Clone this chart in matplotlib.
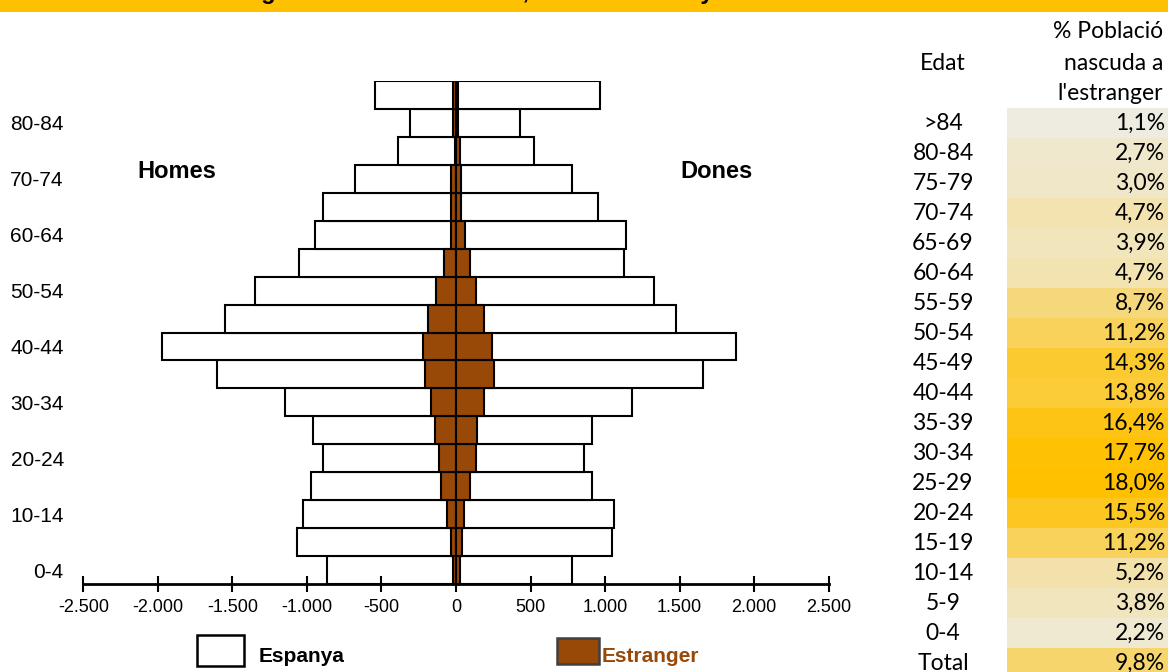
import numpy as np
import matplotlib
matplotlib.use("Agg")
import matplotlib.pyplot as plt
from matplotlib.patches import Rectangle
from matplotlib.colors import to_rgb

plt.rcParams['font.family'] = ['Liberation Sans', 'DejaVu Sans']

# age groups, bottom to top
ages = ["0-4", "5-9", "10-14", "15-19", "20-24", "25-29", "30-34", "35-39", "40-44",
        "45-49", "50-54", "55-59", "60-64", "65-69", "70-74", "75-79", "80-84", ">84"]
men_spain = [864, 1066, 1026, 972, 891, 958, 1147, 1605, 1969,
             1551, 1349, 1053, 945, 891, 675, 392, 311, 542]
men_foreign = [19, 32, 59, 98, 113, 138, 167, 208, 221,
               190, 136, 82, 32, 32, 32, 8, 19, 19]
women_spain = [778, 1048, 1061, 913, 857, 911, 1183, 1654, 1881,
               1479, 1329, 1129, 1142, 951, 778, 522, 428, 969]
women_foreign = [26, 37, 53, 93, 131, 143, 188, 253, 241,
                 188, 131, 93, 62, 35, 35, 26, 15, 15]

# table on the right, top to bottom
table_ages = [">84", "80-84", "75-79", "70-74", "65-69", "60-64", "55-59", "50-54", "45-49",
              "40-44", "35-39", "30-34", "25-29", "20-24", "15-19", "10-14", "5-9", "0-4", "Total"]
table_pct = [1.1, 2.7, 3.0, 4.7, 3.9, 4.7, 8.7, 11.2, 14.3,
             13.8, 16.4, 17.7, 18.0, 15.5, 11.2, 5.2, 3.8, 2.2, 9.8]

xticks = [-2500, -2000, -1500, -1000, -500, 0, 500, 1000, 1500, 2000, 2500]

BROWN = "#984807"
W, H = 1168, 672

fig = plt.figure(figsize=(W / 100, H / 100), dpi=100)


def fx(x):
    return x / W


def fy(y):
    return 1 - y / H


# banner at the top (title mostly cut off by the edge, as in the source)
fig.patches.append(Rectangle((0, fy(12)), 1, 12 / H, transform=fig.transFigure,
                             facecolor="#FFC000", edgecolor="none", zorder=0))
fig.text(fx(130), fy(-1), "Població segons lloc de naixement, sexe i edat. Any 2015",
         fontsize=17, fontweight="bold", ha="left", va="baseline", color="black")

ax = fig.add_axes([fx(83.3), fy(584), fx(828.7) - fx(83.3), (584 - 81) / H])
y = np.arange(len(ages))

ax.barh(y, -np.array(men_spain), height=1.0, color="white", edgecolor="black", linewidth=1.5)
ax.barh(y, women_spain, height=1.0, color="white", edgecolor="black", linewidth=1.5)
ax.barh(y, -np.array(men_foreign), height=1.0, color=BROWN, edgecolor="black", linewidth=1.5)
ax.barh(y, women_foreign, height=1.0, color=BROWN, edgecolor="black", linewidth=1.5)

ax.set_xlim(-2500, 2500)
ax.set_ylim(-0.5, len(ages) - 0.5)
ax.set_xticks(xticks)
ax.set_xticklabels([f"{t:,}".replace(",", ".") for t in xticks], fontsize=13)
ax.set_yticks(y[::2])
ax.set_yticklabels(ages[::2], fontsize=15)
ax.tick_params(axis="x", direction="inout", length=12, width=1.5, pad=5)
ax.tick_params(axis="y", length=0, pad=14)
for s in ["left", "right", "top"]:
    ax.spines[s].set_visible(False)
ax.spines["bottom"].set_linewidth(2)

fig.text(fx(177), fy(171), "Homes", fontsize=17, fontweight="bold", ha="center", va="center")
fig.text(fx(717), fy(172), "Dones", fontsize=17, fontweight="bold", ha="center", va="center")

# legend
fig.patches.append(Rectangle((fx(197), fy(665.5)), fx(244) - fx(197), (665.5 - 635) / H,
                             transform=fig.transFigure, facecolor="white", edgecolor="black", linewidth=1.8))
fig.text(fx(259), fy(662.5), "Espanya", fontsize=15, fontweight="bold", ha="left", va="baseline")
fig.patches.append(Rectangle((fx(557), fy(664)), fx(599) - fx(557), (664 - 637.5) / H,
                             transform=fig.transFigure, facecolor=BROWN, edgecolor="#404040", linewidth=1.8))
fig.text(fx(602), fy(662.5), "Estranger", fontsize=15, fontweight="bold", ha="left", va="baseline",
         color=BROWN)

# table
tfont = ['Lato', 'DejaVu Sans']
tsize = 16.5
fig.text(fx(1163), fy(31), "% Població", family=tfont, fontsize=tsize, ha="right", va="center")
fig.text(fx(1163), fy(63), "nascuda a", family=tfont, fontsize=tsize, ha="right", va="center")
fig.text(fx(1163), fy(93), "l'estranger", family=tfont, fontsize=tsize, ha="right", va="center")
fig.text(fx(943), fy(63), "Edat", family=tfont, fontsize=tsize, ha="center", va="center")

c_lo = np.array(to_rgb("#EEECE1"))
c_hi = np.array(to_rgb("#FFC000"))
vmin, vmax = min(table_pct), max(table_pct)
row_h = 30
top = 108.3
for i, (lab, v) in enumerate(zip(table_ages, table_pct)):
    t = (v - vmin) / (vmax - vmin)
    col = c_lo + (c_hi - c_lo) * t
    y0 = top + i * row_h
    fig.patches.append(Rectangle((fx(1007), fy(y0 + row_h)), 1 - fx(1007), row_h / H,
                                 transform=fig.transFigure, facecolor=col, edgecolor="none", zorder=0))
    yc = y0 + row_h / 2
    fig.text(fx(943), fy(yc), lab, family=tfont, fontsize=tsize, ha="center", va="center")
    fig.text(fx(1165), fy(yc), f"{v:.1f}%".replace(".", ","), family=tfont, fontsize=tsize,
             ha="right", va="center")

fig.savefig("out.png", dpi=100)
